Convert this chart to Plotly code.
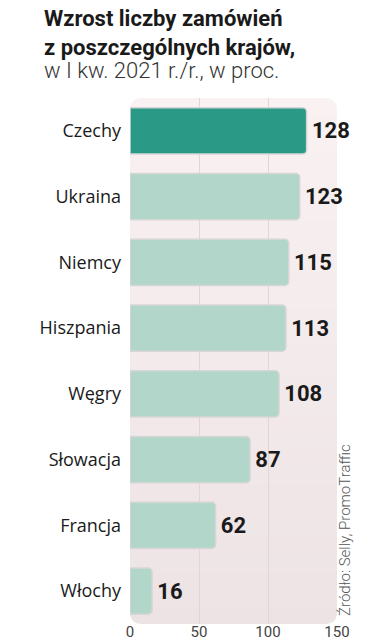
import plotly.graph_objects as go

countries = ["Czechy", "Ukraina", "Niemcy", "Hiszpania", "Węgry", "Słowacja", "Francja", "Włochy"]
values = [128, 123, 115, 113, 108, 87, 62, 16]
highlight = "Czechy"
tick_vals = [0, 50, 100, 150]

colors = ["#2a9a87" if c == highlight else "#b2d6ca" for c in countries]

fig = go.Figure()
fig.add_trace(go.Bar(
    x=values, y=countries, orientation="h",
    marker=dict(color=colors, line=dict(color="#d6d6d6", width=1.5), cornerradius=4),
    width=0.7,
    text=["\u200a" + str(v) for v in values], textposition="outside",
    textfont=dict(family="Roboto", size=22, color="#1a1a1a", weight="bold"),
    constraintext="none", cliponaxis=False, hoverinfo="skip",
))

# background panel with a soft vertical gradient (top lighter), rounded corners
top_rgb = (249, 241, 242)
bot_rgb = (237, 227, 228)
N = 30
rx, ry = 0.058, 0.0228
for i in range(N):
    y0 = i / N
    y1 = (i + 1) / N
    f = (y0 + y1) / 2
    c = tuple(round(bot_rgb[k] + (top_rgb[k] - bot_rgb[k]) * f) for k in range(3))
    col = "rgb(%d,%d,%d)" % c
    y1e = min(1, y1 + 0.002)
    if i == 0:
        path = (f"M 0,{y1e} L 1,{y1e} L 1,{ry} Q 1,0 {1-rx},0 L {rx},0 Q 0,0 0,{ry} Z")
    elif i == N - 1:
        path = (f"M {rx},1 L {1-rx},1 Q 1,1 1,{1-ry} L 1,{y0} L 0,{y0} L 0,{1-ry} Q 0,1 {rx},1 Z")
    else:
        path = f"M 0,{y0} L 1,{y0} L 1,{y1e} L 0,{y1e} Z"
    fig.add_shape(type="path", path=path, xref="paper", yref="paper",
                  fillcolor=col, line=dict(width=0), layer="below")

W, H = 373, 640
l, r, t, b = 130, 36, 98, 16
pw, ph = W - l - r, H - t - b
def px(x): return (x - l) / pw
def py(y): return (H - b - y) / ph

fig.update_layout(
    width=W, height=H,
    margin=dict(l=l, r=r, t=t, b=b, autoexpand=False),
    paper_bgcolor="white", plot_bgcolor="rgba(0,0,0,0)",
    showlegend=False,
    xaxis=dict(range=[0, 150], tickvals=tick_vals, showgrid=True, gridcolor="#e4d4d6",
               gridwidth=1, zeroline=False, showline=False, ticks="",
               ticklabelstandoff=-3,
               tickfont=dict(family="Roboto", size=15, color="#444"), fixedrange=True),
    yaxis=dict(categoryorder="array", categoryarray=countries, range=[7.5, -0.5],
               showgrid=False, zeroline=False, showline=False, ticks="",
               ticklabelstandoff=8,
               tickfont=dict(family="Open Sans", size=18, color="#1a1a1a"), fixedrange=True),
)

fig.add_annotation(text="<b>Wzrost liczby zamówień</b><br><b>z poszczególnych krajów,</b>",
                   x=px(42), y=py(4), xref="paper", yref="paper", xanchor="left", yanchor="top",
                   align="left", showarrow=False,
                   font=dict(family="Roboto", size=22, color="#1a1a1a"))
fig.add_annotation(text="w I kw. 2021 r./r., w proc.",
                   x=px(42), y=py(56), xref="paper", yref="paper", xanchor="left", yanchor="top",
                   align="left", showarrow=False,
                   font=dict(family="Roboto", size=22, color="#333", weight=300))
fig.add_annotation(text="Źródło: Selly, PromoTraffic", textangle=-90,
                   x=px(345), y=py(530), xref="paper", yref="paper", xanchor="center", yanchor="middle",
                   showarrow=False, font=dict(family="Roboto", size=15, color="#555", weight=300))

fig.write_html("out.html", config={"displayModeBar": False},
               post_script="document.body.style.margin='0';")
